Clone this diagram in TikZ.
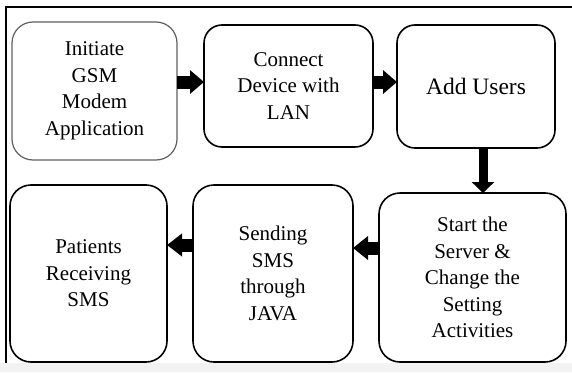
\documentclass[tikz,border=0pt]{standalone}
\usepackage{fontspec}
\setmainfont{Liberation Serif}
\newfontfamily\tnrfont{Liberation Serif}
\usetikzlibrary{arrows.meta}
\begin{document}
\begin{tikzpicture}[x=1pt,y=-1pt,
  box/.style={draw=black, line width=1.6pt, rounded corners=21pt, rectangle,
    outer sep=0pt, inner sep=2pt, align=center,
    font=\tnrfont\fontsize{21}{26.5}\selectfont},
  topbox/.style={box, rounded corners=18pt},
  firstbox/.style={box, draw={rgb,255:red,95;green,95;blue,95}, line width=1.2pt},
  barrow/.style={line width=13pt, -{Triangle[length=14pt,width=23pt]}},
  darrow/.style={line width=9pt, -{Triangle[length=11pt,width=22pt]}}
]
\useasboundingbox (0,0) rectangle (572,372);
\fill[black!5] (0,363) rectangle (572,372);
\draw[line width=2pt] (6,363) -- (6,7) -- (572,7);

\node[firstbox, minimum width=165pt, minimum height=138pt] (b1) at (94.5,91) {Initiate\\GSM\\Modem\\Application};
\node[topbox, minimum width=169pt, minimum height=122pt] (b2) at (288.5,86) {Connect\\Device with\\LAN};
\node[topbox, minimum width=158pt, minimum height=123pt, font=\tnrfont\fontsize{23.5}{28}\selectfont] (b3) at (476,86.5) {Add Users};
\node[box, minimum width=157pt, minimum height=177pt] (b4) at (88.5,273.5) {Patients\\Receiving\\SMS};
\node[box, minimum width=160pt, minimum height=177pt] (b5) at (273,273.5) {Sending\\SMS\\through\\JAVA};
\node[box, minimum width=187pt, minimum height=169pt] (b6) at (472.5,277.5) {Start the\\Server \&\\Change the\\Setting\\Activities};

\coordinate (a1) at ([yshift=4pt]b2.west);
\coordinate (a2) at ([yshift=4.5pt]b3.west);
\coordinate (a3) at ([xshift=10.5pt]b6.north);
\coordinate (a4) at ([yshift=25.5pt]b5.east);
\coordinate (a5) at ([yshift=28.5pt]b4.east);

\draw[barrow] (b1.east |- a1) -- (a1);
\draw[barrow] (b2.east |- a2) -- (a2);
\draw[darrow] (b3.south -| a3) -- (a3);
\draw[barrow, -{Triangle[length=15pt,width=23pt]}] (b6.west |- a4) -- (a4);
\draw[barrow, -{Triangle[length=15pt,width=22pt]}] (b5.west |- a5) -- (a5);
\end{tikzpicture}
\end{document}
